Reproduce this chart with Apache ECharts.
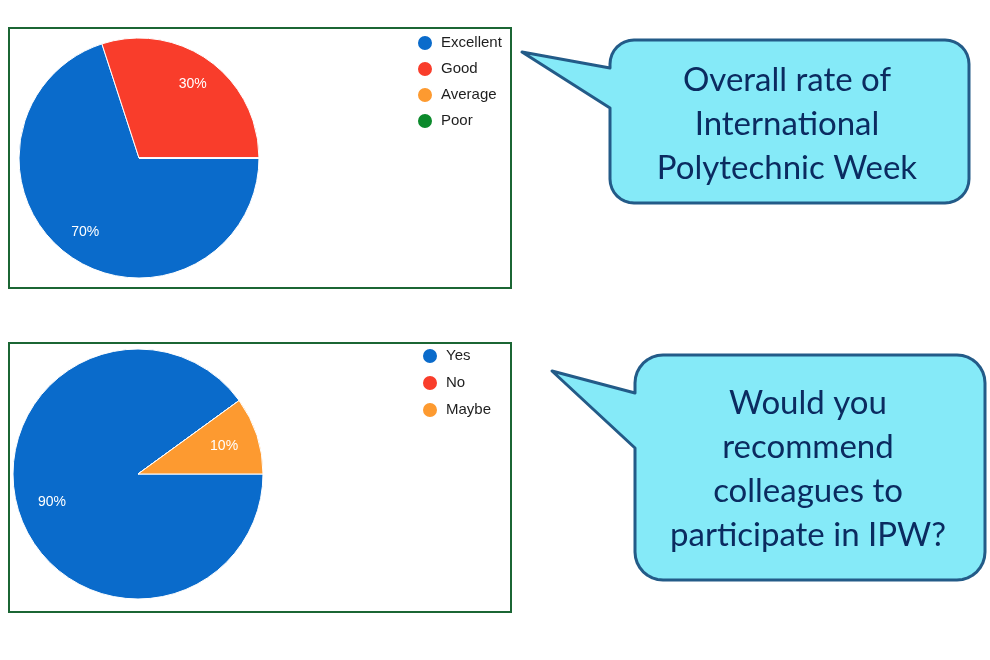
<!DOCTYPE html>
<html>
<head>
<meta charset="utf-8">
<script src="https://cdn.jsdelivr.net/npm/echarts@6/dist/echarts.min.js"></script>
<style>
  html, body { margin: 0; padding: 0; background: #fff; }
  #main { width: 990px; height: 660px; }
</style>
</head>
<body>
<div id="main"></div>
<script>
// survey answers
var rateNames = ['Excellent', 'Good', 'Average', 'Poor'];
var rateValues = [70, 30, 0, 0];
var recNames = ['Yes', 'No', 'Maybe'];
var recValues = [90, 0, 10];

var rateTitle = 'Overall rate of\nInternational\nPolytechnic Week';
var recTitle = 'Would you\nrecommend\ncolleagues to\nparticipate in IPW?';

var rateColors = ['#0a6bcb', '#f93d2b', '#fd9a30', '#0c8a2c'];
var recColors = ['#0a6bcb', '#f93d2b', '#fd9a30'];

var chart = echarts.init(document.getElementById('main'));

function toData(names, values) {
	return names.map(function (n, i) { return { name: n, value: values[i] }; });
}

function pctLabel(p) {
	return p.value ? Math.round(p.percent) + '%' : '';
}

// full pie, no labels
function piePart(names, values, colors, center, r) {
	return {
		type: 'pie',
		center: center,
		radius: [0, r],
		startAngle: 0,
		clockwise: true,
		color: colors,
		label: { show: false },
		labelLine: { show: false },
		itemStyle: { borderColor: '#fff', borderWidth: 1 },
		emphasis: { disabled: true },
		data: toData(names, values)
	};
}

// invisible ring, only there to put the % text further out
function labelPart(names, values, center, r0, r) {
	return {
		type: 'pie',
		center: center,
		radius: [r0, r],
		startAngle: 0,
		clockwise: true,
		silent: true,
		legendHoverLink: false,
		itemStyle: { color: 'transparent', borderWidth: 0 },
		label: {
			show: true,
			position: 'inside',
			color: '#fff',
			fontSize: 14,
			fontFamily: 'Liberation Sans, Arial, sans-serif',
			formatter: pctLabel
		},
		labelLine: { show: false },
		emphasis: { disabled: true },
		data: toData(names, values)
	};
}

// rounded box with a pointer on its left side
function bubble(x0, y0, x1, y1, r, tailTop, tailBot, tip) {
	var pts = [];
	function corner(cx, cy, a0) {
		for (var k = 0; k <= 8; k++) {
			var a = (a0 + k * 90 / 8) * Math.PI / 180;
			pts.push([cx + r * Math.cos(a), cy + r * Math.sin(a)]);
		}
	}
	corner(x0 + r, y0 + r, 180);
	corner(x1 - r, y0 + r, 270);
	corner(x1 - r, y1 - r, 0);
	corner(x0 + r, y1 - r, 90);
	pts.push([x0, tailBot], tip, [x0, tailTop]);
	return pts;
}

var legendBase = {
	orient: 'vertical',
	icon: 'circle',
	padding: 0,
	itemWidth: 22,
	itemHeight: 16,
	selectedMode: false,
	textStyle: { color: '#1e1e1e', fontSize: 15, fontFamily: 'Liberation Sans, Arial, sans-serif' }
};

var bubbleStyle = { fill: '#85eaf8', stroke: '#235b88', lineWidth: 3, lineJoin: 'round' };
var bubbleFont = { fill: '#0b2b60', fontSize: 33, fontFamily: 'Lato, sans-serif', align: 'center', verticalAlign: 'middle', lineHeight: 44 };

var option = {
	animation: false,
	backgroundColor: '#fff',
	legend: [
		Object.assign({}, legendBase, { data: rateNames, left: 416, top: 34, itemGap: 8 }),
		Object.assign({}, legendBase, { data: recNames, left: 421, top: 347, itemGap: 9 })
	],
	graphic: [
		{ type: 'rect', shape: { x: 9, y: 28, width: 502, height: 260 }, style: { fill: 'none', stroke: '#1b6634', lineWidth: 2 }, z: -1 },
		{ type: 'rect', shape: { x: 9, y: 343, width: 502, height: 269 }, style: { fill: 'none', stroke: '#1b6634', lineWidth: 2 }, z: -1 },
		{ type: 'polygon', shape: { points: bubble(610, 40, 969, 203, 24, 68, 108, [522, 52]) }, style: bubbleStyle },
		{ type: 'text', style: Object.assign({ text: rateTitle, x: 787, y: 124 }, bubbleFont) },
		{ type: 'polygon', shape: { points: bubble(635, 355, 985, 580, 28, 393, 448, [552, 371]) }, style: bubbleStyle },
		{ type: 'text', style: Object.assign({ text: recTitle, x: 808, y: 469 }, bubbleFont) }
	],
	series: [
		piePart(rateNames, rateValues, rateColors, [139, 158], 120),
		labelPart(rateNames, rateValues, [139, 158], 57, 120),
		piePart(recNames, recValues, recColors, [138, 474], 125),
		labelPart(recNames, recValues, [138, 474], 50, 125)
	]
};

chart.setOption(option);
</script>
</body>
</html>
